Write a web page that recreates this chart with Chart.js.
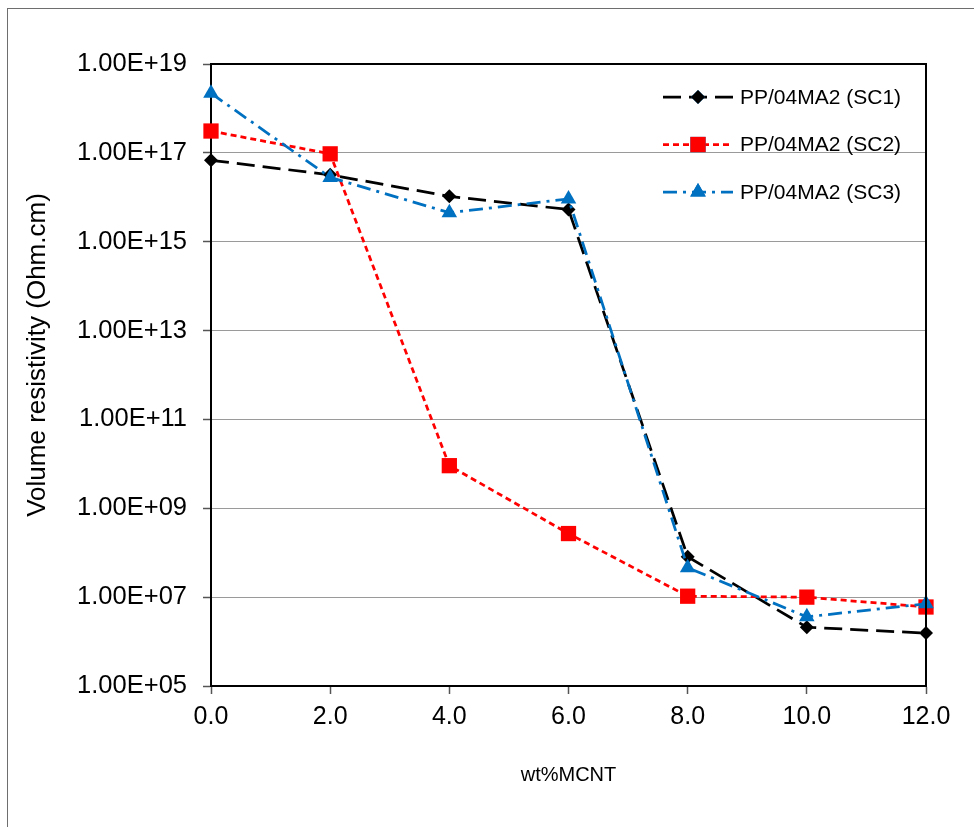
<!DOCTYPE html>
<html>
<head>
<meta charset="utf-8">
<script src="https://cdn.jsdelivr.net/npm/chart.js@4"></script>
<style>
html,body{margin:0;padding:0;background:#fff;}
#wrap{width:974px;height:827px;}
</style>
</head>
<body>
<div id="wrap"><canvas id="c" width="974" height="827"></canvas></div>
<script>
const xValues = [0, 2, 4, 6, 8, 10, 12];
const sc1 = [6.8e16, 3.2e16, 1.05e16, 5.3e15, 8.1e7, 2.1e6, 1.55e6];
const sc2 = [3.1e17, 9.5e16, 9.1e9, 2.7e8, 1.05e7, 1.0e7, 6.0e6];
const sc3 = [2.2e18, 2.8e16, 4.5e15, 9.2e15, 4.6e7, 3.6e6, 7.1e6];
const seriesNames = ['PP/04MA2 (SC1)', 'PP/04MA2 (SC2)', 'PP/04MA2 (SC3)'];
const yTicks = [1e5, 1e7, 1e9, 1e11, 1e13, 1e15, 1e17, 1e19];
const xTitle = 'wt%MCNT';
const yTitle = 'Volume resistivity (Ohm.cm)';

const FONT = '"Liberation Sans", Arial, sans-serif';

function fmtExp(v) {
  const e = Math.round(Math.log10(v));
  const m = v / Math.pow(10, e);
  const sign = e < 0 ? '-' : '+';
  const ae = Math.abs(e);
  return m.toFixed(2) + 'E' + sign + (ae < 10 ? '0' + ae : ae);
}
function pts(ys) { return xValues.map((x, i) => ({x: x, y: ys[i]})); }

const frame = {
  id: 'frame',
  beforeDraw(chart) {
    const ctx = chart.ctx;
    ctx.save();
    ctx.fillStyle = '#fff';
    ctx.fillRect(0, 0, chart.width, chart.height);
    ctx.strokeStyle = '#6e6e6e';
    ctx.lineWidth = 1;
    ctx.strokeRect(7.5, 8.5, 2000, 2000);
    ctx.restore();
  },
  afterDraw(chart) {
    const ctx = chart.ctx, a = chart.chartArea;
    ctx.save();
    ctx.strokeStyle = '#000';
    ctx.lineWidth = 2;
    ctx.beginPath();
    ctx.moveTo(a.left, a.top); ctx.lineTo(a.right, a.top); ctx.lineTo(a.right, a.bottom);
    ctx.stroke();
    // y axis title
    ctx.translate(38, 355);
    ctx.rotate(-Math.PI / 2);
    ctx.fillStyle = '#000';
    ctx.font = '26px ' + FONT;
    ctx.textAlign = 'center';
    ctx.textBaseline = 'middle';
    ctx.fillText(yTitle, 0, 0);
    ctx.restore();
  }
};

const legendPlugin = {
  id: 'customLegend',
  afterDraw(chart) {
    const ctx = chart.ctx;
    const rows = [97, 144.5, 192];
    chart.data.datasets.forEach((ds, i) => {
      const y = rows[i];
      ctx.save();
      ctx.strokeStyle = ds.borderColor;
      ctx.lineWidth = ds.borderWidth;
      ctx.setLineDash(ds.borderDash);
      ctx.beginPath();
      ctx.moveTo(663, y); ctx.lineTo(733, y);
      ctx.stroke();
      ctx.setLineDash([]);
      Chart.helpers.drawPoint(ctx, {pointStyle: ds.pointStyle, radius: ds.pointRadius, borderWidth: 0, rotation: 0}, 698, y);
      ctx.fillStyle = ds.pointBackgroundColor;
      ctx.fill();
      ctx.fillStyle = '#000';
      ctx.font = '21px ' + FONT;
      ctx.textBaseline = 'middle';
      ctx.textAlign = 'left';
      ctx.fillText(seriesNames[i], 740, y + 1);
      ctx.restore();
    });
  }
};

new Chart(document.getElementById('c'), {
  type: 'line',
  data: {
    datasets: [
      {label: seriesNames[0], data: pts(sc1), borderColor: '#000000', backgroundColor: '#000000',
       pointBackgroundColor: '#000000', pointBorderWidth: 0, borderWidth: 2.75, borderDash: [18, 8],
       pointStyle: 'rectRot', pointRadius: 7, order: 3, clip: false, tension: 0},
      {label: seriesNames[1], data: pts(sc2), borderColor: '#FF0000', backgroundColor: '#FF0000',
       pointBackgroundColor: '#FF0000', pointBorderWidth: 0, borderWidth: 2.75, borderDash: [6, 4],
       pointStyle: 'rect', pointRadius: 10.8, order: 2, clip: false, tension: 0},
      {label: seriesNames[2], data: pts(sc3), borderColor: '#0070C0', backgroundColor: '#0070C0',
       pointBackgroundColor: '#0070C0', pointBorderWidth: 0, borderWidth: 2.75, borderDash: [14, 6, 3, 6],
       pointStyle: 'triangle', pointRadius: 9, order: 1, clip: false, tension: 0}
    ]
  },
  options: {
    responsive: false,
    animation: false,
    layout: {padding: {left: 20, top: 64, right: 48, bottom: 20}},
    plugins: {legend: {display: false}, tooltip: {enabled: false}},
    scales: {
      x: {
        type: 'linear', min: 0, max: 12,
        ticks: {stepSize: 2, callback: v => v.toFixed(1), color: '#000', font: {family: FONT, size: 25}, padding: 8},
        grid: {drawOnChartArea: false, drawTicks: true, tickLength: 8, tickColor: '#555', tickWidth: 1.5},
        border: {color: '#000', width: 2},
        title: {display: true, text: xTitle, color: '#000', font: {family: FONT, size: 20}, padding: {top: 0, bottom: 20}},
        afterFit: s => { s.height = 827 - 20 - 686; }
      },
      y: {
        type: 'logarithmic', min: 1e5, max: 1e19,
        afterBuildTicks: s => { s.ticks = yTicks.map(v => ({value: v})); },
        ticks: {callback: v => fmtExp(v), color: '#000', font: {family: FONT, size: 25.5}, padding: 16, autoSkip: false},
        grid: {color: '#9a9a9a', lineWidth: 1, tickLength: 8, tickColor: '#555', tickWidth: 1.5},
        border: {color: '#000', width: 2},
        title: {display: false},
        afterFit: s => { s.width = 211 - 20; }
      }
    }
  },
  plugins: [frame, legendPlugin]
});
</script>
</body>
</html>
